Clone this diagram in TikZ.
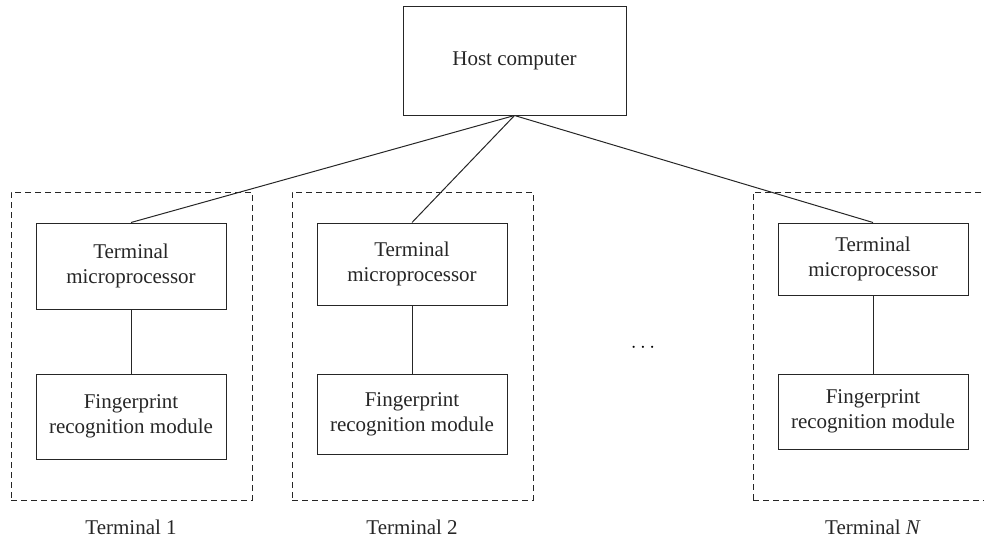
\documentclass[tikz,border=0pt]{standalone}
\usepackage{fontspec}
\setmainfont{Liberation Serif}
\begin{document}
\begin{tikzpicture}[x=1pt,y=-1pt,
  every node/.style={font=\fontsize{21}{25}\selectfont, text=black!85},
  blk/.style={draw=black!85, line width=1pt, align=center, inner sep=0pt, minimum width=190pt},
  grp/.style={draw=black!85, line width=0.9pt, dash pattern=on 6pt off 4pt, inner sep=0pt},
  conn/.style={draw=black!85, line width=1pt}]
\useasboundingbox (0,0) rectangle (984,541);
% groups
\node[grp, minimum width=241pt, minimum height=308pt] (g1) at (131.5,346) {};
\node[grp, minimum width=241pt, minimum height=308pt] (g2) at (412.5,346) {};
\node[grp, minimum width=245pt, minimum height=308pt, anchor=north west] (g3) at (753,192) {};
% host
\node[blk, minimum width=223pt, minimum height=109pt] (host) at (514.5,60.5) {Host computer};
% terminal 1
\node[blk, minimum height=86pt] (tm1) at (131,266) {Terminal\\microprocessor};
\node[blk, minimum height=85pt] (fr1) at (131,416.5) {Fingerprint\\recognition module};
% terminal 2
\node[blk, minimum height=82pt] (tm2) at (412,264) {Terminal\\microprocessor};
\node[blk, minimum height=80pt] (fr2) at (412,414) {Fingerprint\\recognition module};
% terminal N
\node[blk, minimum height=72pt] (tm3) at (873,259) {Terminal\\microprocessor};
\node[blk, minimum height=75pt] (fr3) at (873,411.5) {Fingerprint\\recognition module};
% connectors
\draw[conn] (host.south) -- (tm1.north);
\draw[conn] (host.south) -- (tm2.north);
\draw[conn] (host.south) -- (tm3.north);
\draw[conn] (tm1.south) -- (fr1.north);
\draw[conn] (tm2.south) -- (fr2.north);
\draw[conn] (tm3.south) -- (fr3.north);
% dots
\node[text=black] (dots) at (643,348) {$\cdots$};
% labels
\node (l1) at (131,527) {Terminal 1};
\node (l2) at (412,527) {Terminal 2};
\node (l3) at (873,527) {Terminal \textit{N}};
\end{tikzpicture}
\end{document}
